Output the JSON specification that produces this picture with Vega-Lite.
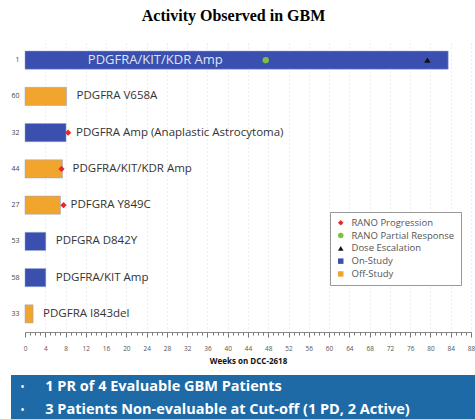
{
  "$schema": "https://vega.github.io/schema/vega-lite/v6.json",
  "padding": {"left": 10, "top": 8, "right": 0, "bottom": 0},
  "background": "white",
  "config": {"view": {"stroke": null}, "font": "Open Sans"},
  "title": {"text": "Activity Observed in GBM", "font": "Liberation Serif", "fontSize": 16, "fontWeight": "bold", "color": "#000", "anchor": "middle", "offset": 18, "dx": -10},
  "spacing": 9,
  "datasets": {
    "bars": [
      {"pt": "1", "weeks": 83.5, "cat": "On-Study", "label": "PDGFRA/KIT/KDR Amp"},
      {"pt": "60", "weeks": 8.2, "cat": "Off-Study", "label": "PDGFRA V658A"},
      {"pt": "32", "weeks": 8.1, "cat": "On-Study", "label": "PDGFRA Amp (Anaplastic Astrocytoma)"},
      {"pt": "44", "weeks": 7.4, "cat": "Off-Study", "label": "PDGFRA/KIT/KDR Amp"},
      {"pt": "27", "weeks": 7.0, "cat": "Off-Study", "label": "PDFGRA Y849C"},
      {"pt": "53", "weeks": 4.1, "cat": "On-Study", "label": "PDFGRA D842Y"},
      {"pt": "58", "weeks": 4.1, "cat": "On-Study", "label": "PDGFRA/KIT Amp"},
      {"pt": "33", "weeks": 1.6, "cat": "Off-Study", "label": "PDGFRA I843del"}
    ],
    "events": [
      {"pt": "1", "weeks": 47.5, "cat": "RANO Partial Response"},
      {"pt": "1", "weeks": 79.4, "cat": "Dose Escalation"},
      {"pt": "32", "weeks": 8.5, "cat": "RANO Progression"},
      {"pt": "44", "weeks": 7.2, "cat": "RANO Progression"},
      {"pt": "27", "weeks": 7.6, "cat": "RANO Progression"}
    ],
    "notes": [
      {"line": 1, "text": "1 PR of 4 Evaluable GBM Patients"},
      {"line": 2, "text": "3 Patients Non-evaluable at Cut-off (1 PD, 2 Active)"}
    ]
  },
  "vconcat": [
    {
      "width": 446,
      "height": 290,
      "encoding": {
        "y": {"field": "pt", "type": "nominal", "sort": ["1","60","32","44","27","53","58","33"],
              "scale": {"paddingInner": 0.5, "paddingOuter": 0.25},
              "axis": {"title": null, "domain": false, "ticks": false, "labelFontSize": 7, "labelColor": "#444", "labelPadding": 6}},
        "x": {"field": "weeks", "type": "quantitative",
              "scale": {"domain": [0, 88], "nice": false},
              "axis": {"title": "Weeks on DCC-2618", "titleFontSize": 8, "titleFontWeight": "bold", "titleColor": "#111", "titlePadding": 6,
                       "values": [0,1,2,3,4,5,6,7,8,9,10,11,12,13,14,15,16,17,18,19,20,21,22,23,24,25,26,27,28,29,30,31,32,33,34,35,36,37,38,39,40,41,42,43,44,45,46,47,48,49,50,51,52,53,54,55,56,57,58,59,60,61,62,63,64,65,66,67,68,69,70,71,72,73,74,75,76,77,78,79,80,81,82,83,84,85,86,87,88],
                       "labelExpr": "datum.value % 4 === 0 ? datum.label : ''",
                       "labelOverlap": false, "labelSeparation": 0, "labelBound": false,
                       "labelFontSize": 6.5, "labelColor": "#555", "labelPadding": 8, "labelFlush": false,
                       "domainColor": "#888", "tickColor": "#777",
                       "tickSize": {"condition": {"test": "datum.value % 4 === 0", "value": 5}, "value": 3},
                       "grid": true, "gridColor": "#d8d8d8", "gridDash": [1, 3],
                       "gridOpacity": {"condition": {"test": "datum.value % 4 === 0 && datum.value > 0", "value": 1}, "value": 0}}}
      },
      "layer": [
        {
          "data": {"name": "bars"},
          "mark": {"type": "bar", "stroke": "#8da0d8", "strokeWidth": 0.5},
          "encoding": {
            "color": {"field": "cat", "type": "nominal",
                      "scale": {"domain": ["RANO Progression", "RANO Partial Response", "Dose Escalation", "On-Study", "Off-Study"],
                                "range": ["#e52a2a", "#7cc242", "#111111", "#3a4fae", "#f2a52c"]},
                      "legend": {"title": null, "orient": "none", "legendX": 305, "legendY": 170, "strokeColor": "#999", "padding": 6,
                                 "labelFontSize": 9.5, "labelColor": "#555", "symbolSize": 30, "rowPadding": 1.8, "labelOffset": 6,
                                 "fillColor": "white", "symbolStrokeWidth": 0, "symbolOpacity": 1}}
          }
        },
        {
          "data": {"name": "events"},
          "mark": {"type": "point", "filled": true, "opacity": 1, "size": 40},
          "encoding": {
            "color": {"field": "cat", "type": "nominal"},
            "shape": {"field": "cat", "type": "nominal",
                      "scale": {"domain": ["RANO Progression", "RANO Partial Response", "Dose Escalation", "On-Study", "Off-Study"],
                                "range": ["diamond", "circle", "triangle-up", "square", "square"]},
                      "legend": {"title": null}}
          }
        },
        {
          "data": {"name": "bars"},
          "transform": [{"filter": "datum.pt !== '1'"}],
          "mark": {"type": "text", "align": "left", "baseline": "middle", "dx": 10, "fontSize": 11.5, "color": "#333"},
          "encoding": {
            "text": {"field": "label"}
          }
        },
        {
          "data": {"name": "bars"},
          "transform": [{"filter": "datum.pt === '1'"}],
          "mark": {"type": "text", "align": "left", "baseline": "middle", "fontSize": 13, "color": "#dfe4f5"},
          "encoding": {
            "x": {"datum": 12.4, "type": "quantitative"},
            "text": {"field": "label"}
          }
        }
      ]
    },
    {
      "width": 446,
      "height": 46,
      "data": {"name": "notes"},
      "encoding": {
        "y": {"field": "line", "type": "ordinal", "axis": null, "scale": {"paddingOuter": 0.1}}
      },
      "layer": [
        {
          "mark": {"type": "rect", "color": "#1e6aa7"},
          "encoding": {
            "y": {"value": 0},
            "y2": {"value": 46},
            "x": {"datum": -2.75, "type": "quantitative", "scale": {"domain": [0, 88], "nice": false}, "axis": null},
            "x2": {"datum": 89}
          }
        },
        {
          "mark": {"type": "text", "align": "left", "baseline": "middle", "fontSize": 14.5, "fontWeight": "bold", "color": "white"},
          "encoding": {"x": {"datum": 4.0, "type": "quantitative"}, "text": {"field": "text"}}
        },
        {
          "mark": {"type": "text", "align": "center", "baseline": "middle", "fontSize": 12, "color": "white"},
          "encoding": {"x": {"datum": -0.5, "type": "quantitative"}, "text": {"datum": "•"}}
        }
      ]
    }
  ]
}
